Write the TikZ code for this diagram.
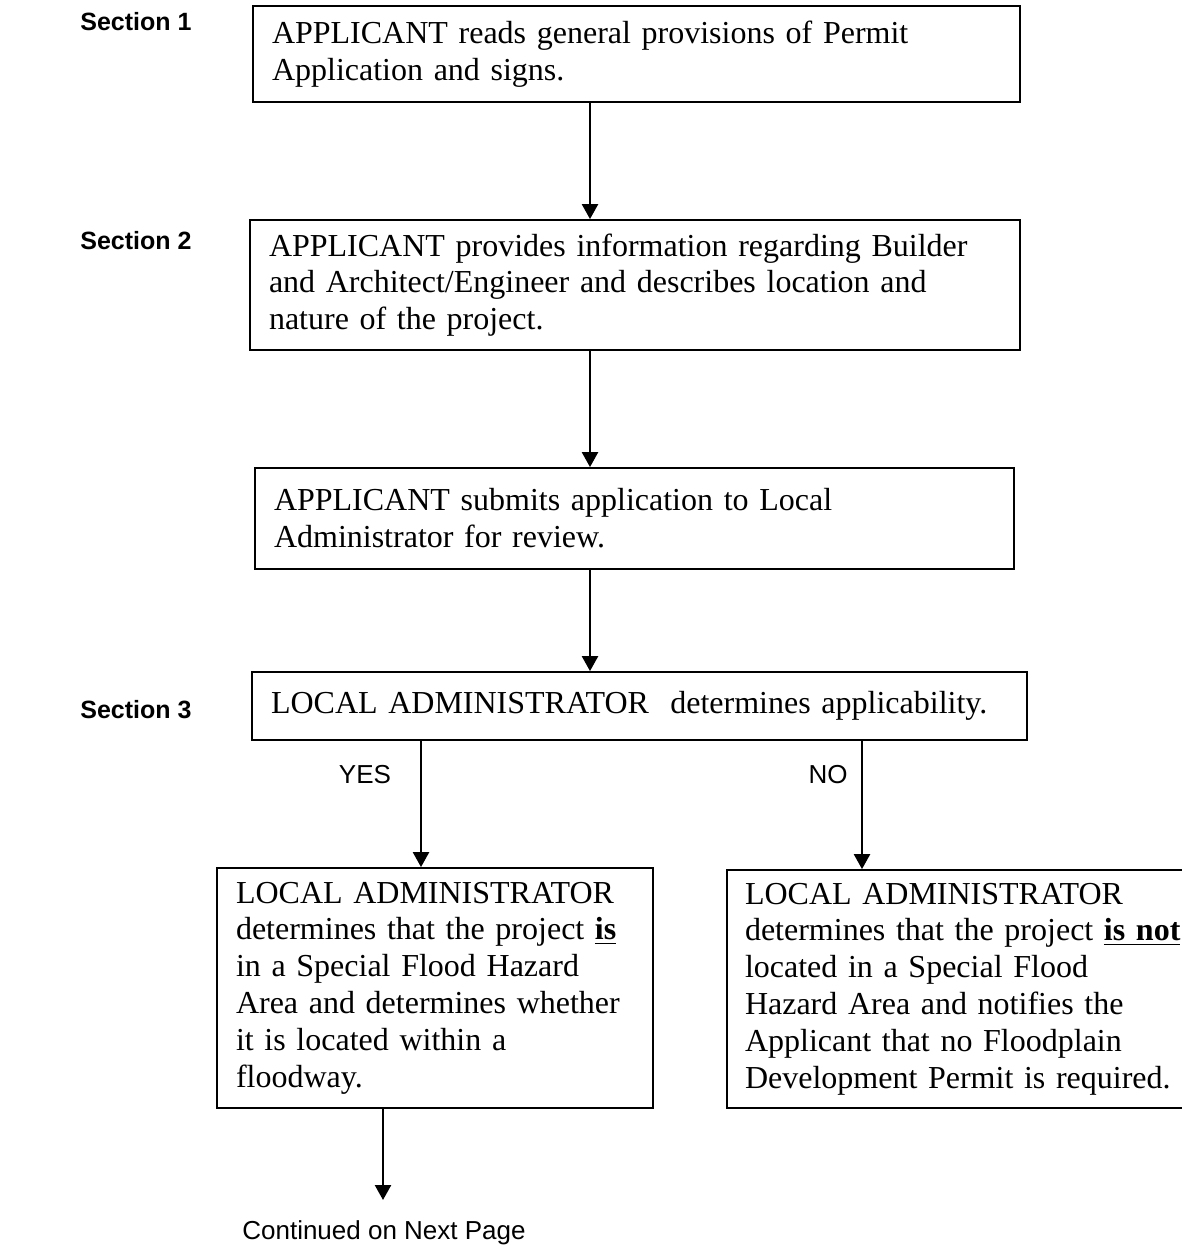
\documentclass[tikz,border=0pt]{standalone}
\usepackage{fontspec}
\setmainfont{Liberation Serif}
\newfontfamily\arialfont{Liberation Sans}
\usetikzlibrary{arrows.meta}
\begin{document}
\begin{tikzpicture}[x=0.5pt,y=-0.5pt,
  box/.style={draw, line width=0.9pt, align=left, inner xsep=9.5pt, inner ysep=0pt,
    font=\fontsize{16}{18.4}\selectfont, anchor=center},
  arr/.style={-{Triangle[length=7.5pt,width=8pt]}, line width=1.2pt},
  sect/.style={font=\arialfont\bfseries\fontsize{12.5}{14}\selectfont, anchor=west, inner sep=0pt},
  lab/.style={font=\arialfont\fontsize{13}{15}\selectfont, inner sep=0pt}]
\useasboundingbox (0,0) rectangle (1182,1248);

\node[sect] (s1) at (80,22) {Section 1};
\node[sect] (s2) at (80,241) {Section 2};
\node[sect] (s3) at (80,710) {Section 3};

\node[box, text width=364.5pt, minimum height=48pt] (b1) at (636.5,54)
  {APPLICANT reads general provisions of Permit\\Application and signs.};
\node[box, text width=366pt, minimum height=65pt] (b2) at (635,285)
  {APPLICANT provides information regarding Builder\\and Architect/Engineer and describes location and\\nature of the project.};
\node[box, text width=360.5pt, minimum height=50.5pt] (b3) at (634.5,518.5)
  {APPLICANT submits application to Local\\Administrator for review.};
\node[box, text width=368.5pt, minimum height=34pt] (b4) at (639.5,706)
  {LOCAL ADMINISTRATOR\ \ determines applicability.};
\node[box, text width=199pt, minimum height=120pt] (b5) at (435,988)
  {LOCAL ADMINISTRATOR\\determines that the project \underline{\textbf{is}}\\in a Special Flood Hazard\\Area and determines whether\\it is located within a\\floodway.};
\node[box, text width=218.5pt, inner xsep=9pt, minimum height=119pt] (b6) at (963.5,989)
  {LOCAL ADMINISTRATOR\\determines that the project \underline{\textbf{is not}}\\located in a Special Flood\\Hazard Area and notifies the\\Applicant that no Floodplain\\Development Permit is required.};

\coordinate (ax) at (590,0);
\coordinate (yx) at (421,0);
\coordinate (nx) at (862,0);
\coordinate (ce) at (383,1200);

\draw[arr] (b1.south -| ax) -- (b2.north -| ax);
\draw[arr] (b2.south -| ax) -- (b3.north -| ax);
\draw[arr] (b3.south -| ax) -- (b4.north -| ax);
\draw[arr] (b4.south -| yx) -- (b5.north -| yx);
\draw[arr] (b4.south -| nx) -- (b6.north -| nx);
\draw[arr] (b5.south -| ce) -- (ce);

\node[lab] (yes) at (365,775) {YES};
\node[lab] (no) at (828,775) {NO};
\node[lab] (cont) at (384,1233) {Continued on Next Page};
\end{tikzpicture}
\end{document}
